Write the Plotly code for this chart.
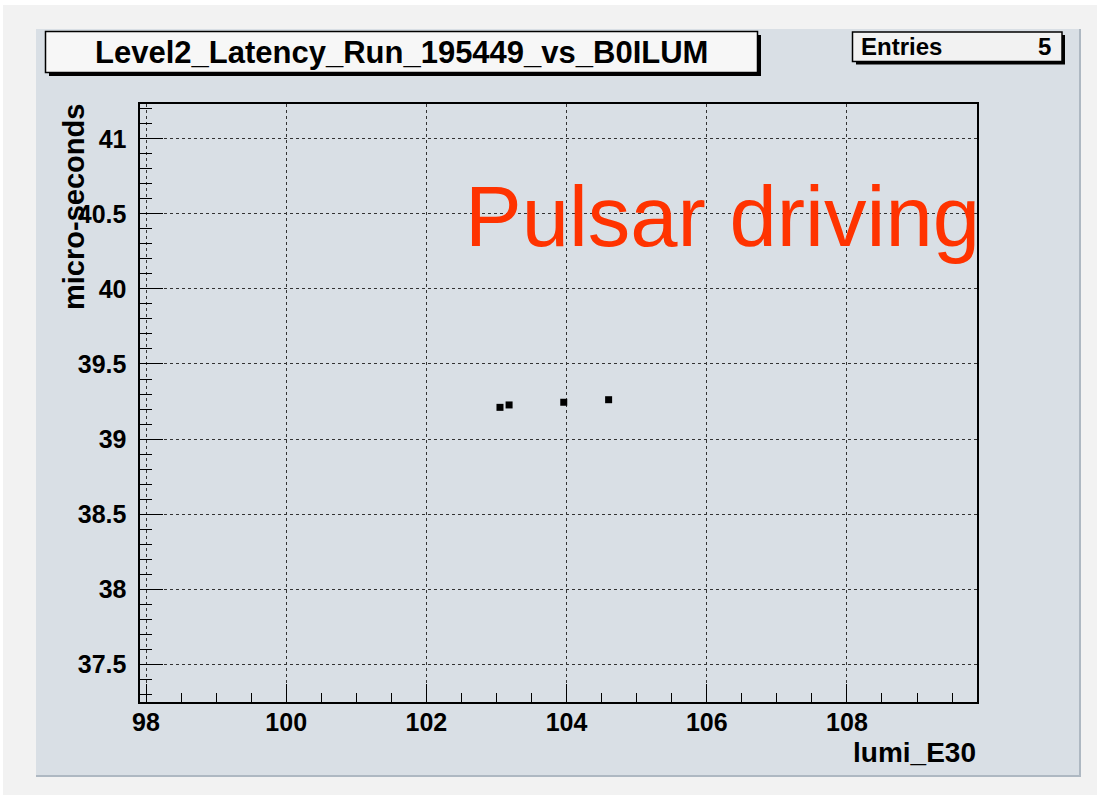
import plotly.graph_objects as go

# ---- data ----
lumi_E30 = [103.05, 103.18, 103.96, 104.60]
latency_us = [39.211, 39.227, 39.245, 39.262]
entries = 5
title_text = "Level2_Latency_Run_195449_vs_B0ILUM"
x_title = "lumi_E30"
y_title = "micro-seconds"
overlay_text = "Pulsar driving"

W, H = 1097, 798
def px(x):
    return x / W
def py(y):
    return 1 - y / H

CANVAS = "#d9dfe5"
FONT = "Liberation Sans, Arial, sans-serif"

fig = go.Figure()
fig.add_trace(go.Scatter(
    x=lumi_E30, y=latency_us, mode="markers",
    marker=dict(symbol="square", size=7, color="black"),
    showlegend=False, hoverinfo="x+y"))

shapes = []
def rect(x0, y0, x1, y1, fill, line=None, lw=0, layer="below"):
    shapes.append(dict(type="rect", xref="paper", yref="paper",
                       x0=px(x0), x1=px(x1), y0=py(y1), y1=py(y0),
                       fillcolor=fill, line=dict(color=line or fill, width=lw),
                       layer=layer))

# page and canvas
rect(3, 5, 1097, 795, "#f2f2f2")
rect(36, 29, 1081, 777, "#aeb8c2")
rect(36, 29, 1079, 775, CANVAS)
# title box with shadow
rect(49, 35, 761, 76, "black", layer="above")
rect(45.5, 31.5, 757.5, 72.5, "#f7f7f7", "black", 1.5, layer="above")
# stats box with shadow
rect(856, 35, 1065, 64.5, "black", layer="above")
rect(852.5, 32, 1062, 61.5, "#f2f2f2", "black", 1.5, layer="above")

annotations = [
    dict(text=title_text, x=px(401.5), y=py(53), xref="paper", yref="paper",
         xanchor="center", yanchor="middle", showarrow=False,
         font=dict(family=FONT, size=31, color="black", weight="bold")),
    dict(text="Entries", x=px(859), y=py(46), xref="paper", yref="paper",
         xanchor="left", yanchor="middle", showarrow=False,
         font=dict(family=FONT, size=24, color="black", weight="bold")),
    dict(text=str(entries), x=px(1053), y=py(46), xref="paper", yref="paper",
         xanchor="right", yanchor="middle", showarrow=False,
         font=dict(family=FONT, size=24, color="black", weight="bold")),
    dict(text=y_title, x=px(74), y=py(102), xref="paper", yref="paper",
         xanchor="center", yanchor="top", textangle=-90, showarrow=False,
         font=dict(family=FONT, size=29, color="black", weight="bold")),
    dict(text=x_title, x=px(978), y=py(752), xref="paper", yref="paper",
         xanchor="right", yanchor="middle", showarrow=False,
         font=dict(family=FONT, size=28, color="black", weight="bold")),
    dict(text=overlay_text, x=px(463), y=py(216), xref="paper", yref="paper",
         xanchor="left", yanchor="middle", showarrow=False,
         font=dict(family=FONT, size=85, color="#ff3300")),
]

fig.update_layout(
    width=W, height=H, margin=dict(l=0, r=0, t=0, b=0, autoexpand=False),
    paper_bgcolor="white", plot_bgcolor=CANVAS,
    shapes=shapes, annotations=annotations,
    font=dict(family=FONT, size=25, color="black"),
    xaxis=dict(domain=[px(140.2), px(976.6)], range=[97.917, 109.85],
               tick0=98, dtick=2, ticks="inside", ticklen=18, tickwidth=1.2,
               tickcolor="black", showline=True, linecolor="black", linewidth=1.5,
               mirror=True, showgrid=True, gridcolor="#333333", griddash="dot",
               gridwidth=1, zeroline=False, ticklabelstandoff=-2, automargin=False,
               minor=dict(dtick=0.5, tick0=98, ticks="inside", ticklen=9,
                          tickcolor="black", showgrid=False),
               tickfont=dict(size=25, weight="bold")),
    yaxis=dict(domain=[py(701.7), py(104)], range=[37.249, 41.233],
               tick0=37.5, dtick=0.5, ticks="inside", ticklen=23, tickwidth=1.2,
               tickcolor="black", showline=True, linecolor="black", linewidth=1.5,
               mirror=True, showgrid=True, gridcolor="#333333", griddash="dot",
               gridwidth=1, zeroline=False, ticklabelstandoff=7, automargin=False,
               minor=dict(dtick=0.1, tick0=37.5, ticks="inside", ticklen=12,
                          tickcolor="black", showgrid=False),
               tickfont=dict(size=25, weight="bold")),
)

fig.write_html("out.html", config={"displayModeBar": False},
               post_script="document.body.style.margin='0';document.body.style.overflow='hidden';")
